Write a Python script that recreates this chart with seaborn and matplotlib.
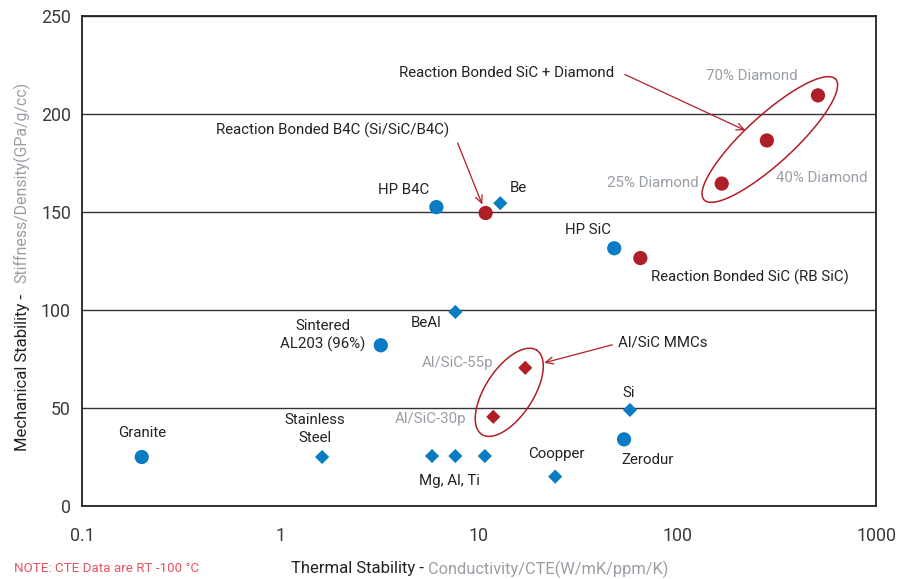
import matplotlib
matplotlib.use("Agg")
import matplotlib.pyplot as plt
from matplotlib.ticker import FixedLocator, FixedFormatter, NullLocator
import seaborn as sns
import pandas as pd
import numpy as np

# Data
materials = ["Granite", "Stainless Steel", "Sintered AL203", "BeAl", "HP B4C",
             "RB B4C", "Be", "HP SiC", "RB SiC", "25% Diamond", "40% Diamond",
             "70% Diamond", "Al/SiC-55p", "Al/SiC-30p", "Mg", "Al", "Ti",
             "Coopper", "Si", "Zerodur"]
thermal = [0.2, 1.62, 3.2, 7.6, 6.1, 10.8, 12.8, 48, 65, 167, 282, 510,
           17.1, 11.8, 5.8, 7.6, 10.7, 24.2, 57.6, 53.8]
mechanical = [25, 25, 82, 99, 152.5, 149.5, 154.5, 131.5, 126.5, 164.5, 186.5,
              209.5, 70.5, 45.5, 25.5, 25.5, 25.5, 15, 49, 34]
family = ["std", "std", "std", "std", "std", "rb", "std", "std", "rb", "rb", "rb",
          "rb", "rb", "rb", "std", "std", "std", "std", "std", "std"]
shape = ["circle", "diamond", "circle", "diamond", "circle", "circle", "diamond",
         "circle", "circle", "circle", "circle", "circle", "diamond", "diamond",
         "diamond", "diamond", "diamond", "diamond", "diamond", "circle"]

x_ticks = [0.1, 1, 10, 100, 1000]
x_tick_labels = ["0.1", "1", "10", "100", "1000"]
y_ticks = [0, 50, 100, 150, 200, 250]

df = pd.DataFrame({"material": materials, "thermal": thermal,
                   "mechanical": mechanical, "family": family, "shape": shape})

BLUE = "#0A7CC4"
RED = "#B01E28"
GRAY = "#999EA5"
INK = "#222222"
palette = {"std": BLUE, "rb": RED}

sns.set_style("white")
plt.rcParams["font.family"] = ["Roboto", "DejaVu Sans"]

fig = plt.figure(figsize=(9.13, 5.79), dpi=100)
ax = fig.add_axes([82 / 913, 73 / 579, 794 / 913, 490 / 579])

sns.scatterplot(data=df[df["shape"] == "circle"], x="thermal", y="mechanical",
                hue="family", palette=palette, marker="o", s=105,
                linewidth=0, legend=False, ax=ax, zorder=3)
sns.scatterplot(data=df[df["shape"] == "diamond"], x="thermal", y="mechanical",
                hue="family", palette=palette, marker="D", s=52,
                linewidth=0, legend=False, ax=ax, zorder=3)

ax.set_xscale("log")
ax.set_xlim(0.1, 1000)
ax.set_ylim(0, 250)
ax.xaxis.set_major_locator(FixedLocator(x_ticks))
ax.xaxis.set_major_formatter(FixedFormatter(x_tick_labels))
ax.xaxis.set_minor_locator(NullLocator())
ax.set_yticks(y_ticks)
ax.tick_params(axis="both", length=0, labelsize=12.8, labelcolor="#3A3A3A")
ax.tick_params(axis="x", pad=15)
ax.tick_params(axis="y", pad=8)
ax.grid(axis="y", color="#333333", linewidth=1)
ax.grid(axis="x", visible=False)
for sp in ax.spines.values():
    sp.set_color("#222222")
    sp.set_linewidth(1.3)
ax.set_xlabel("")
ax.set_ylabel("")

pos = dict(zip(materials, zip(thermal, mechanical)))

# Point labels: (text, anchor, dx px, dy px, colour, ha)
labels = [
    ("Granite", "Granite", 0, 24, INK, "center"),
    ("Stainless\nSteel", "Stainless Steel", -7, 28, INK, "center"),
    ("Sintered\nAL203 (96%)", "Sintered AL203", -58, 10, INK, "center"),
    ("BeAl", "BeAl", -29, -11, INK, "center"),
    ("HP B4C", "HP B4C", -33, 17, INK, "center"),
    ("Be", "Be", 18, 15, INK, "center"),
    ("HP SiC", "HP SiC", -26, 18, INK, "center"),
    ("Reaction Bonded SiC (RB SiC)", "RB SiC", 11, -19, INK, "left"),
    ("25% Diamond", "25% Diamond", -23, 1, GRAY, "right"),
    ("40% Diamond", "40% Diamond", 9, -38, GRAY, "left"),
    ("70% Diamond", "70% Diamond", -66, 19, GRAY, "center"),
    ("Al/SiC-55p", "Al/SiC-55p", -32, 5, GRAY, "right"),
    ("Al/SiC-30p", "Al/SiC-30p", -27, -2, GRAY, "right"),
    ("Si", "Si", -1, 17, INK, "center"),
    ("Zerodur", "Zerodur", 24, -21, INK, "center"),
    ("Coopper", "Coopper", 1, 23, INK, "center"),
    ("Mg, Al, Ti", "Al", -6, -25, INK, "center"),
]
for text, key, dx, dy, col, ha in labels:
    ax.annotate(text, xy=pos[key], xytext=(dx, dy), textcoords="offset pixels",
                ha=ha, va="center", color=col, fontsize=10.8, linespacing=1.3)

# Callouts with arrows: (text, anchor, text dx, dy, ha, tail dx, dy, shrink)
callouts = [
    ("Reaction Bonded B4C (Si/SiC/B4C)", "RB B4C", -153, 83, "center", -28, 70, 6.5),
    ("Reaction Bonded SiC + Diamond", "40% Diamond", -260, 67, "center", -142, 66, 17),
    ("Al/SiC MMCs", "Al/SiC-55p", 93, 25, "left", 87, 23, 14),
]
for text, key, tx, ty, ha, ax_, ay_, shrink in callouts:
    ax.annotate(text, xy=pos[key], xytext=(tx, ty), textcoords="offset pixels",
                ha=ha, va="center", color=INK, fontsize=10.8)
    ax.annotate("", xy=pos[key], xytext=(ax_, ay_), textcoords="offset pixels",
                arrowprops=dict(arrowstyle="->,head_length=0.55,head_width=0.25",
                                color=RED, lw=0.9, shrinkA=0, shrinkB=shrink))

# Ellipses around grouped composites, drawn in screen space
def ring(first, last, pad, half_minor):
    p = ax.transData.transform([pos[first], pos[last]])
    c = p.mean(axis=0)
    d = p[1] - p[0]
    ang = np.arctan2(d[1], d[0])
    a = np.hypot(*d) / 2 + pad
    t = np.linspace(0, 2 * np.pi, 200)
    ex = a * np.cos(t)
    ey = half_minor * np.sin(t)
    xs = c[0] + ex * np.cos(ang) - ey * np.sin(ang)
    ys = c[1] + ex * np.sin(ang) + ey * np.cos(ang)
    dat = ax.transData.inverted().transform(np.column_stack([xs, ys]))
    ax.plot(dat[:, 0], dat[:, 1], color=RED, lw=1.1, zorder=2)

ring("25% Diamond", "70% Diamond", 24, 24)
ring("Al/SiC-30p", "Al/SiC-55p", 21, 24)

# Axis titles in two tones
fig.text(22 / 913, 1 - 451 / 579, "Mechanical Stability -", rotation=90,
         ha="center", va="bottom", fontsize=12, color=INK)
fig.text(22 / 913, 1 - 82 / 579, "Stiffness/Density(GPa/g/cc)", rotation=90,
         ha="center", va="top", fontsize=11.4, color=GRAY)
t2 = fig.text(291 / 913, 1 - 569 / 579, "Thermal Stability - ", ha="left",
              va="center", fontsize=12, color=INK)
ax.annotate("Conductivity/CTE(W/mK/ppm/K)", xy=(1, 0.5), xycoords=t2,
            ha="left", va="center", fontsize=11.8, color=GRAY,
            annotation_clip=False)

fig.text(14 / 913, 1 - 568 / 579, "NOTE: CTE Data are RT -100 °C", ha="left",
         va="center", fontsize=9.6, color="#E8535F")

fig.savefig("out.png", dpi=100)
